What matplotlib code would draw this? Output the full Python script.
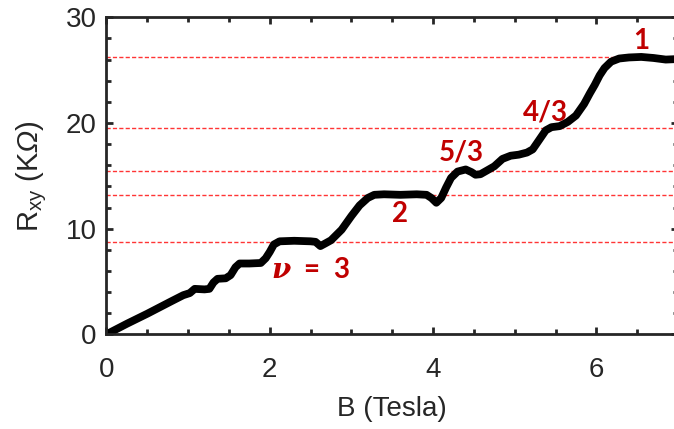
import matplotlib
matplotlib.use("Agg")
import matplotlib.pyplot as plt
from matplotlib.ticker import MultipleLocator

# ---------------- data ----------------
B_tesla = [0.0, 0.25, 0.5, 0.8, 0.94, 1.02, 1.08, 1.2, 1.26, 1.31, 1.36, 1.46, 1.52, 1.58,
           1.63, 1.75, 1.89, 1.95, 2.0, 2.05, 2.12, 2.3, 2.5, 2.56, 2.62, 2.68, 2.75, 2.88,
           3.0, 3.1, 3.2, 3.28, 3.4, 3.6, 3.8, 3.92, 3.98, 4.04, 4.1, 4.16, 4.22, 4.3, 4.4,
           4.47, 4.52, 4.58, 4.66, 4.75, 4.85, 4.95, 5.05, 5.15, 5.22, 5.3, 5.38, 5.45, 5.55,
           5.65, 5.75, 5.85, 5.92, 5.98, 6.04, 6.1, 6.18, 6.28, 6.4, 6.55, 6.7, 6.85, 7.0]
R_xy = [0.0, 1.0, 1.95, 3.15, 3.7, 3.9, 4.3, 4.25, 4.3, 4.9, 5.25, 5.3, 5.6, 6.35,
        6.7, 6.7, 6.75, 7.2, 7.8, 8.5, 8.8, 8.85, 8.8, 8.75, 8.35, 8.6, 8.9, 9.9,
        11.2, 12.2, 12.9, 13.2, 13.25, 13.2, 13.25, 13.2, 12.9, 12.45, 12.9, 13.9, 14.8, 15.4, 15.6,
        15.35, 15.1, 15.15, 15.5, 15.9, 16.6, 16.9, 17.0, 17.2, 17.5, 18.4, 19.3, 19.6, 19.7,
        20.1, 20.7, 21.8, 22.8, 23.6, 24.5, 25.2, 25.8, 26.1, 26.2, 26.25, 26.15, 26.0, 26.05]

plateau_levels = [26.2, 19.5, 15.5, 13.2, 8.75]

label_texts = ["1", "4/3", "5/3", "2", r"$\nu$  =  3"]
label_B = [6.55, 5.37, 4.35, 3.59, 2.5]
label_R = [27.8, 21.0, 17.2, 11.4, 6.1]

x_ticks = [0, 2, 4, 6]
y_ticks = [0, 10, 20, 30]

# ---------------- style ----------------
plt.rcParams['font.family'] = ['Liberation Sans', 'DejaVu Sans']
plt.rcParams['mathtext.fontset'] = 'custom'
plt.rcParams['mathtext.rm'] = 'Lato:bold'
plt.rcParams['mathtext.it'] = 'DejaVu Serif:italic:bold'
plt.rcParams['mathtext.sf'] = 'Liberation Sans'
plt.rcParams['mathtext.bf'] = 'Liberation Sans:italic'

axis_col = '#262626'
red_col = '#C00000'

fig = plt.figure(figsize=(6.74, 4.29), dpi=100)
W, H = 674.0, 429.0
left_px, right_px, top_px, bot_px = 106.5, 678.0, 17.3, 334.3
ax = fig.add_axes([left_px / W, 1 - bot_px / H, (right_px - left_px) / W, (bot_px - top_px) / H])

for lvl in plateau_levels:
    ax.axhline(lvl, color='#FF3535', lw=1.0, linestyle=(0, (3, 1.6)), zorder=1)

ax.plot(B_tesla, R_xy, color='black', lw=5.6, solid_capstyle='round',
        solid_joinstyle='round', zorder=2)

for t, bx, ry in zip(label_texts, label_B, label_R):
    ax.text(bx, ry, t, color=red_col, fontsize=20, fontweight='bold',
            family=['Lato', 'DejaVu Sans'], ha='center', va='center', zorder=3)

ax.set_xlim(0, 7)
ax.set_ylim(0, 30)
ax.set_xticks(x_ticks)
ax.set_yticks(y_ticks)
ax.xaxis.set_minor_locator(MultipleLocator(0.5))
ax.yaxis.set_minor_locator(MultipleLocator(2))

for s in ax.spines.values():
    s.set_linewidth(2.0)
    s.set_color(axis_col)

ax.tick_params(which='both', direction='in', top=True, right=True, width=2.0,
               color=axis_col, labelcolor=axis_col, labelsize=20)
ax.tick_params(which='major', length=5)
ax.tick_params(which='minor', length=3.5)
ax.tick_params(axis='x', pad=16)
ax.tick_params(axis='y', pad=7)

ax.set_xlabel('B (Tesla)', fontsize=20, color=axis_col, labelpad=10)
ax.set_ylabel(r'R$_{\mathsf{xy}}$ (K$\mathbf{\Omega}$)', fontsize=21, color=axis_col, labelpad=12)

fig.savefig('out.png', dpi=100)
